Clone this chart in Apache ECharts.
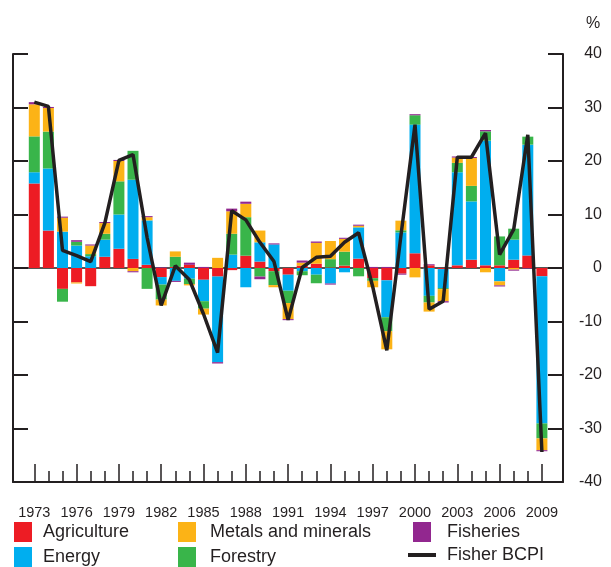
<!DOCTYPE html>
<html>
<head>
<meta charset="utf-8">
<script src="https://cdn.jsdelivr.net/npm/echarts@6/dist/echarts.min.js"></script>
<style>
  html, body { margin: 0; padding: 0; background: #fff; }
  #chart { width: 611px; height: 567px; }
</style>
</head>
<body>
<div id="chart"></div>
<script>
  // data (% change per year)
  var years = [];
  for (var y = 1973; y <= 2009; y++) years.push(String(y));

  var agriculture = [15.8, 7.0, -3.9, -2.7, -3.4, 2.1, 3.6, 1.7, 0.6, -1.7, 0.2, 0.6, -2.2, -1.6, -0.4, 2.3, 1.2, -0.6, -1.25, 0.45, 0.8, 0.1, 0.45, 1.75, -1.9, -2.3, -1.05, 2.75, 0.5, -0.2, 0.5, 1.55, 0.5, 0.5, 1.55, 2.35, -1.55];
  var energy = [2.1, 11.6, 6.8, 4.2, 2.2, 3.2, 6.4, 14.8, 8.3, -1.4, -2.4, -2.0, -4.0, -16.0, 2.5, -3.6, 3.6, 4.4, -3.0, -0.6, -1.25, -2.9, -0.8, 5.85, 0, -6.9, 6.65, 24.05, -5.2, -3.55, 17.4, 10.9, 23.3, -2.5, 3.75, 20.7, -27.5];
  var forestry = [6.7, 6.9, -2.4, 0.7, 0.4, 1.1, 6.2, 5.4, -3.9, -2.8, 1.9, -1.0, -1.4, 0, 3.9, 7.2, -1.6, -2.6, -2.3, -0.75, -1.6, 1.55, 2.6, -1.55, -0.5, -2.6, 0.4, 1.75, -1.25, -0.2, 1.75, 2.9, 1.75, 5.4, 2.05, 1.5, -2.8];
  var metals = [6.0, 4.4, 2.6, -0.2, 1.6, 2.0, 3.8, -0.6, 0.6, -1.1, 1.0, -0.25, -1.1, 1.9, 4.2, 2.5, 2.2, -0.4, -3.0, 0.55, 3.9, 3.4, 2.4, 0.3, -1.2, -3.4, 1.8, -1.75, -1.7, -2.25, 1.0, 5.2, -0.8, -0.75, -0.3, 0, -2.2];
  var fisheries = [0.4, 0.2, 0.2, 0.3, 0.2, 0.2, 0.2, -0.2, 0.2, 0.1, -0.2, 0.4, 0.2, -0.25, 0.5, 0.4, -0.5, 0.2, -0.2, 0.4, 0.25, -0.2, 0.2, 0.2, 0.2, 0.2, -0.2, 0.2, 0.2, -0.25, 0.2, 0.2, 0.25, -0.2, -0.2, -0.1, -0.2];
  var bcpi = [31.0, 30.2, 3.3, 2.3, 1.2, 8.4, 20.1, 21.2, 5.7, -7.0, 0.4, -2.2, -8.6, -15.8, 10.7, 9.0, 4.8, 1.2, -9.7, 0.1, 2.0, 2.2, 4.8, 6.6, -3.5, -15.4, 6.0, 26.8, -7.7, -6.2, 20.7, 20.7, 25.2, 2.5, 7.2, 24.9, -34.4];

  var font = 'Liberation Sans, Arial, sans-serif';
  var ink = '#231f20';

  function bar(name, data, color) {
    return {
      name: name, type: 'bar', stack: 'total', data: data,
      xAxisIndex: 1, yAxisIndex: 2,
      barWidth: 11, itemStyle: { color: color }
    };
  }

  function legend(left, top, names, w, h, gap) {
    return {
      left: left, top: top, orient: 'vertical', padding: 0, icon: 'rect',
      itemWidth: w, itemHeight: h, itemGap: 5,
      textStyle: { fontSize: 18, color: ink, padding: [0, 0, 0, gap] },
      data: names
    };
  }

  var chart = echarts.init(document.getElementById('chart'));
  chart.setOption({
    animation: false,
    textStyle: { fontFamily: font },
    title: { text: '%', left: 581, top: 11, textStyle: { fontSize: 16, fontWeight: 'normal', color: ink, fontFamily: font } },
    grid: [
      { left: 13, right: 48, top: 54, bottom: 85 },       // frame
      { left: 27.25, right: 62.05, top: 54, bottom: 85 }  // data
    ],
    legend: [
      legend(14, 522, ['Agriculture', 'Energy'], 18, 20, 6),
      legend(178, 522, ['Metals and minerals', 'Forestry'], 18, 20, 9),
      legend(413, 522, ['Fisheries'], 18, 20, 11),
      legend(408, 546, ['Fisher BCPI'], 28, 4, 6)
    ],
    xAxis: [
      { gridIndex: 0, type: 'value', min: 0, max: 1, position: 'bottom',
        axisLine: { onZero: false, lineStyle: { color: ink, width: 2 } },
        axisTick: { show: false }, axisLabel: { show: false }, splitLine: { show: false } },
      { gridIndex: 1, type: 'category', data: years, position: 'bottom',
        axisLine: { show: false, onZero: false },
        axisTick: { show: true, inside: true, interval: 0, alignWithLabel: true, length: 11, lineStyle: { color: ink, width: 1.5 } },
        axisLabel: { show: false } },
      { gridIndex: 1, type: 'category', data: years, position: 'bottom',
        axisLine: { show: false, onZero: false },
        axisTick: { show: true, inside: true, interval: 2, alignWithLabel: true, length: 18, lineStyle: { color: ink, width: 1.5 } },
        axisLabel: { interval: 2, margin: 23, fontSize: 14.5, color: ink, fontFamily: 'Liberation Sans Narrow, Arial Narrow, Liberation Sans, sans-serif' } }
    ],
    yAxis: [
      { gridIndex: 0, type: 'value', min: -40, max: 40, interval: 10, position: 'left',
        axisLine: { show: true, lineStyle: { color: ink, width: 2 } },
        axisTick: { show: true, inside: true, length: 15, lineStyle: { color: ink, width: 2 } },
        axisLabel: { show: false },
        splitLine: { show: true, lineStyle: { width: 2, color: ['transparent', 'transparent', 'transparent', 'transparent', '#555', 'transparent', 'transparent', 'transparent', 'transparent'] } } },
      { gridIndex: 0, type: 'value', min: -40, max: 40, interval: 10, position: 'right',
        axisLine: { show: true, lineStyle: { color: ink, width: 2 } },
        axisTick: { show: true, inside: true, length: 15, lineStyle: { color: ink, width: 2 } },
        axisLabel: { margin: 39, align: 'right', fontSize: 16, color: ink },
        splitLine: { show: false } },
      { gridIndex: 1, type: 'value', min: -40, max: 40, interval: 10, show: false }
    ],
    series: [
      bar('Agriculture', agriculture, '#ed1c24'),
      bar('Energy', energy, '#00aeef'),
      bar('Forestry', forestry, '#39b54a'),
      bar('Metals and minerals', metals, '#fcb316'),
      bar('Fisheries', fisheries, '#92278f'),
      { name: 'Fisher BCPI', type: 'line', data: bcpi, xAxisIndex: 1, yAxisIndex: 2,
        symbol: 'none', z: 5, lineStyle: { color: ink, width: 3.5 }, itemStyle: { color: ink } }
    ]
  });
</script>
</body>
</html>
